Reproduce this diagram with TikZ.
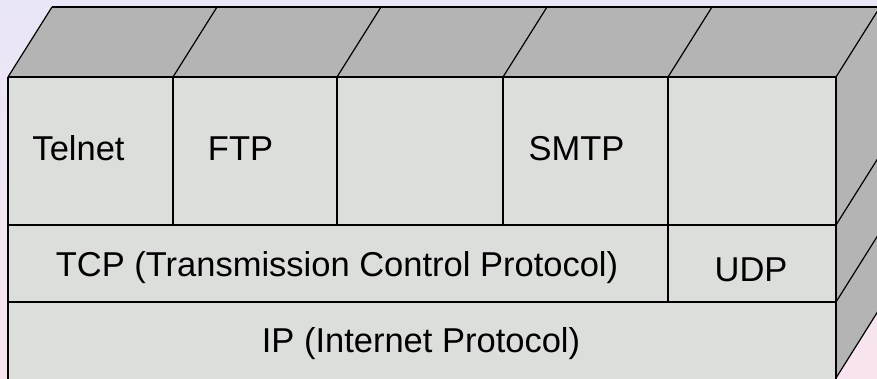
\documentclass[tikz,border=0pt]{standalone}
\usepackage{fontspec}
\setmainfont{Liberation Sans}
\definecolor{bgtop}{RGB}{233,230,248}
\definecolor{bgbot}{RGB}{248,228,238}
\definecolor{frontc}{RGB}{220,222,219}
\definecolor{topc}{RGB}{180,180,180}
\tikzset{
  edge/.style={draw=black,line width=1.2pt,line join=round},
  thick edge/.style={draw=black,line width=2.4pt},
  lbl/.style={inner sep=0pt,anchor=base,font=\fontsize{34.5}{40}\selectfont}
}
\begin{document}
\begin{tikzpicture}[x=1pt,y=-1pt]
\useasboundingbox (0,0) rectangle (877,378);
\clip (0,0) rectangle (877,378);
\shade[top color=bgtop,bottom color=bgbot] (0,0) rectangle (877,378);
% depth offset (44,-70)
% top face
\fill[topc] (8,77) -- (52,7) -- (880,7) -- (836,77) -- cycle;
% right face
\fill[topc] (836,77) -- (880,7) -- (880,308) -- (836,378) -- cycle;
% front face
\fill[frontc] (8,77) rectangle (836,380);
% coordinates
\foreach \n/\x in {a/8,b/173,c/337,d/503,e/668,f/836}{
  \coordinate (f\n) at (\x,77);
  \coordinate (t\n) at (\x+44,7);
}
\coordinate (r1) at (836,225);
\coordinate (r1b) at (880,155);
\coordinate (r2) at (836,302);
\coordinate (r2b) at (880,232);
\coordinate (r3) at (836,378);
\coordinate (r3b) at (880,308);
\coordinate (l1) at (8,225);
\coordinate (l2) at (8,302);
\coordinate (l3) at (8,380);
\coordinate (f3) at (836,380);
% top face edges
\draw[edge] (ta) -- (tf);
\foreach \n in {a,b,c,d,e,f}{ \draw[edge] (f\n) -- (t\n); }
% right face edges
\draw[edge] (r1) -- (r1b);
\draw[edge] (r2) -- (r2b);
\draw[edge] (r3) -- (r3b);
% front grid
\draw[edge] (l1) -- (r1);
\draw[edge] (l2) -- (r2);
\draw[edge] (fb) -- (173,225);
\draw[edge] (fc) -- (337,225);
\draw[edge] (fd) -- (503,225);
\draw[edge] (fe) -- (668,302);
\draw[edge] (fa) -- (l3);
\draw[edge] (ff) -- (f3);
\draw[thick edge] (fa) -- (ff);
% labels
\node[lbl] (telnet) at (78.5,160.5) {Telnet};
\node[lbl] (ftp) at (240.5,160.5) {FTP};
\node[lbl] (smtp) at (576.5,160.5) {SMTP};
\node[lbl] (tcp) at (337,276) {TCP (Transmission Control Protocol)};
\node[lbl] (udp) at (751,281) {UDP};
\node[lbl] (ip) at (421,352) {IP (Internet Protocol)};
\end{tikzpicture}
\end{document}
